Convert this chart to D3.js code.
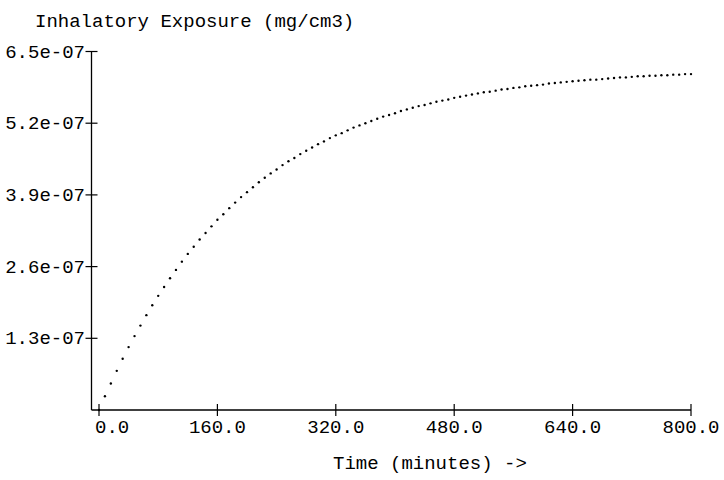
<!DOCTYPE html>
<html>
<head>
<meta charset="utf-8">
<script src="https://cdn.jsdelivr.net/npm/d3@7"></script>
<style>
	body { margin: 0; background: #ffffff; }
	svg text { font-family: "Liberation Mono", "DejaVu Sans Mono", monospace; font-size: 19px; fill: #000000; }
</style>
</head>
<body>
<svg width="724" height="480"></svg>
<script>

// sample times (minutes), one dot every 8 min
var time_min = [0, 8, 16, 24, 32, 40, 48, 56, 64, 72,
	80, 88, 96, 104, 112, 120, 128, 136, 144, 152,
	160, 168, 176, 184, 192, 200, 208, 216, 224, 232,
	240, 248, 256, 264, 272, 280, 288, 296, 304, 312,
	320, 328, 336, 344, 352, 360, 368, 376, 384, 392,
	400, 408, 416, 424, 432, 440, 448, 456, 464, 472,
	480, 488, 496, 504, 512, 520, 528, 536, 544, 552,
	560, 568, 576, 584, 592, 600, 608, 616, 624, 632,
	640, 648, 656, 664, 672, 680, 688, 696, 704, 712,
	720, 728, 736, 744, 752, 760, 768, 776, 784, 792,
	800];

// exposure, in units of 1e-07 mg/cm3
var exposure = [0, 0.25, 0.48, 0.71, 0.93, 1.14, 1.34, 1.53, 1.72, 1.90,
	2.07, 2.23, 2.39, 2.54, 2.69, 2.83, 2.96, 3.09, 3.21, 3.33,
	3.45, 3.55, 3.66, 3.76, 3.86, 3.95, 4.04, 4.13, 4.21, 4.29,
	4.36, 4.44, 4.51, 4.57, 4.64, 4.70, 4.76, 4.82, 4.87, 4.93,
	4.98, 5.02, 5.07, 5.12, 5.16, 5.20, 5.24, 5.28, 5.32, 5.35,
	5.38, 5.42, 5.45, 5.48, 5.51, 5.53, 5.56, 5.59, 5.61, 5.63,
	5.66, 5.68, 5.70, 5.72, 5.74, 5.76, 5.77, 5.79, 5.81, 5.82,
	5.84, 5.85, 5.87, 5.88, 5.89, 5.90, 5.92, 5.93, 5.94, 5.95,
	5.96, 5.97, 5.98, 5.99, 5.99, 6.00, 6.01, 6.02, 6.03, 6.03,
	6.04, 6.05, 6.05, 6.06, 6.06, 6.07, 6.07, 6.08, 6.08, 6.09,
	6.09];

var x_ticks = [0, 160, 320, 480, 640, 800];
var x_labels = ["0.0", "160.0", "320.0", "480.0", "640.0", "800.0"];
var y_ticks = [1.3, 2.6, 3.9, 5.2, 6.5];
var y_labels = ["1.3e-07", "2.6e-07", "3.9e-07", "5.2e-07", "6.5e-07"];

var svg = d3.select("svg");

var x = d3.scaleLinear().domain([0, 800]).range([99, 691]);
var y = d3.scaleLinear().domain([0, 6.5]).range([410, 51.5]);

var axis_x0 = 91.5;

///////////////////////////////////////////////////

// y axis (ticks cross the line)
svg.append("line")
	.attr("x1", axis_x0).attr("x2", axis_x0)
	.attr("y1", y(6.5)).attr("y2", y(0))
	.style("stroke", "#000000")
	.style("stroke-width", 1.3);

svg.selectAll(".ytick")
	.data(y_ticks)
	.enter().append("line")
	.attr("x1", axis_x0 - 6).attr("x2", axis_x0 + 6)
	.attr("y1", function(d) { return y(d); })
	.attr("y2", function(d) { return y(d); })
	.style("stroke", "#000000")
	.style("stroke-width", 1.2);

svg.selectAll(".ylab")
	.data(y_ticks)
	.enter().append("text")
	.attr("x", 85)
	.attr("y", function(d) { return y(d) + 6; })
	.attr("text-anchor", "end")
	.text(function(d, i) { return y_labels[i]; });

// x axis
svg.append("line")
	.attr("x1", axis_x0).attr("x2", x(800))
	.attr("y1", y(0)).attr("y2", y(0))
	.style("stroke", "#000000")
	.style("stroke-width", 1.3);

svg.selectAll(".xtick")
	.data(x_ticks)
	.enter().append("line")
	.attr("x1", function(d) { return x(d); })
	.attr("x2", function(d) { return x(d); })
	.attr("y1", y(0) - 6).attr("y2", y(0) + 6)
	.style("stroke", "#000000")
	.style("stroke-width", 1.2);

svg.selectAll(".xlab")
	.data(x_ticks)
	.enter().append("text")
	.attr("x", function(d, i) { return i == 0 ? x(d) - 4 : x(d); })
	.attr("y", 433)
	.attr("text-anchor", function(d, i) { return i == 0 ? "start" : "middle"; })
	.text(function(d, i) { return x_labels[i]; });

// titles
svg.append("text")
	.attr("x", 35)
	.attr("y", 27)
	.text("Inhalatory Exposure (mg/cm3)");

svg.append("text")
	.attr("x", 333)
	.attr("y", 469)
	.text("Time (minutes) ->");

///////////////////////////////////////////////////

// dotted curve
svg.selectAll(".dot")
	.data(time_min)
	.enter().append("circle")
	.attr("cx", function(d) { return x(d); })
	.attr("cy", function(d, i) { return y(exposure[i]); })
	.attr("r", 1.2)
	.style("fill", "#000000");

</script>
</body>
</html>
